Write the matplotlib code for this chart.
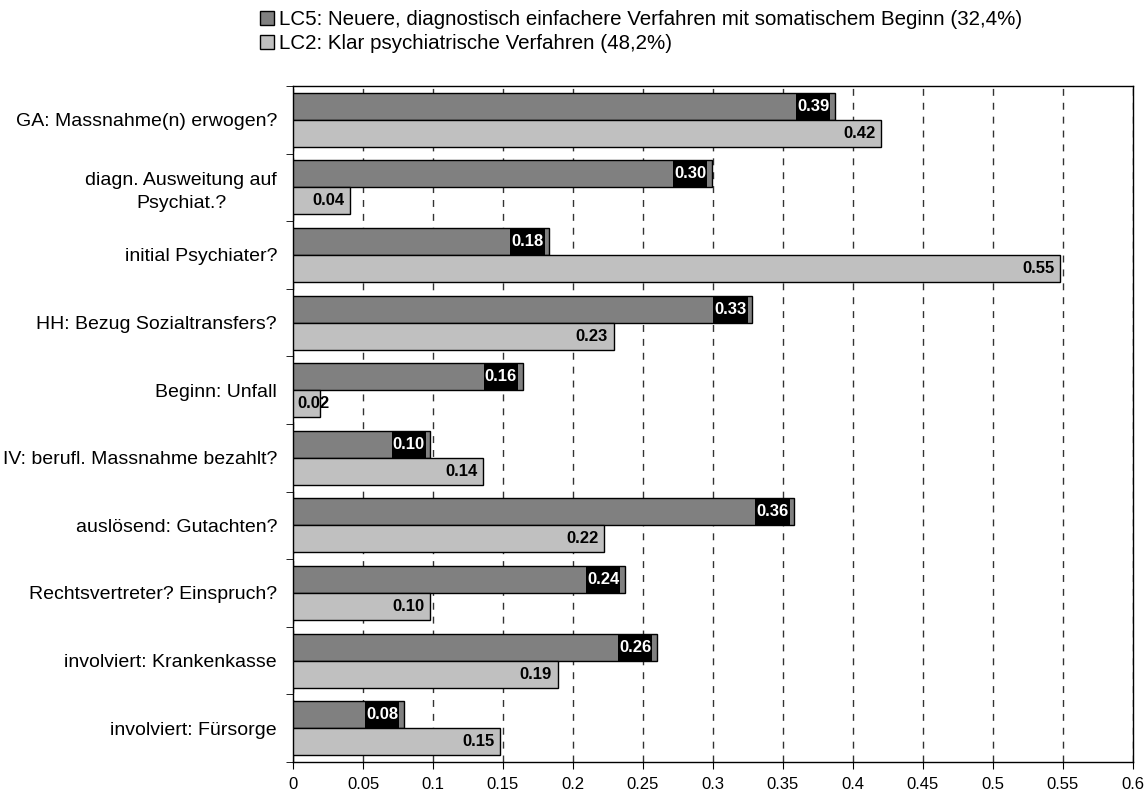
import numpy as np
import matplotlib.pyplot as plt
from matplotlib.patches import Patch
from matplotlib.ticker import FuncFormatter, MultipleLocator

# =============================================================================
#                           data
# =============================================================================

categories = ['GA: Massnahme(n) erwogen?',
              'diagn. Ausweitung auf\nPsychiat.?',
              'initial Psychiater?',
              'HH: Bezug Sozialtransfers?',
              'Beginn: Unfall',
              'IV: berufl. Massnahme bezahlt?',
              'auslösend: Gutachten?',
              'Rechtsvertreter? Einspruch?',
              'involviert: Krankenkasse',
              'involviert: Fürsorge']

lc5 = [0.387, 0.299, 0.183, 0.328, 0.164, 0.098, 0.358, 0.237, 0.260, 0.079]
lc2 = [0.420, 0.041, 0.548, 0.229, 0.019, 0.136, 0.222, 0.098, 0.189, 0.148]

lab_lc5 = 'LC5: Neuere, diagnostisch einfachere Verfahren mit somatischem Beginn (32,4%)'
lab_lc2 = 'LC2: Klar psychiatrische Verfahren (48,2%)'

col_lc5 = '#808080'
col_lc2 = '#c0c0c0'

# =============================================================================
#                               Plotting
# =============================================================================

plt.rcParams['font.family'] = ['Liberation Sans', 'DejaVu Sans']

fig = plt.figure(figsize=(11.45, 7.91), dpi=100)
ax = fig.add_axes([0.2559, 0.0367, 0.9895 - 0.2559, 0.8913 - 0.0367])

aY = np.arange(len(categories))
h = 0.4

ax.barh(aY - h/2, lc5, height=h, color=col_lc5, edgecolor='black', lw=1, zorder=3)
ax.barh(aY + h/2, lc2, height=h, color=col_lc2, edgecolor='black', lw=1, zorder=3)

ax.set_xlim(0, 0.6)
ax.set_ylim(len(categories) - 0.5, -0.5)

# value labels
lTxt5 = []
for y, v in zip(aY, lc5):
    t = ax.annotate('%.2f' % v, (v, y - h/2), xytext=(-4, 0), textcoords='offset points',
                    ha='right', va='center', fontsize=12, fontweight='bold', color='white',
                    zorder=5)
    lTxt5.append(t)
for y, v in zip(aY, lc2):
    if v < 0.03:
        ax.annotate('%.2f' % v, (0, y + h/2), xytext=(3.5, 0), textcoords='offset points',
                    ha='left', va='center', fontsize=12, fontweight='bold', color='black', zorder=5)
    else:
        ax.annotate('%.2f' % v, (v, y + h/2), xytext=(-4, 0), textcoords='offset points',
                    ha='right', va='center', fontsize=12, fontweight='bold', color='black', zorder=5)

# black boxes behind the LC5 labels, full bar height
fig.canvas.draw()
inv = ax.transData.inverted()
for t, y in zip(lTxt5, aY):
    bb = t.get_window_extent()
    x0 = inv.transform((bb.x0 - 1, 0))[0]
    x1 = inv.transform((bb.x1 + 1, 0))[0]
    ax.barh(y - h/2, x1 - x0, left=x0, height=h, color='black', lw=0, zorder=4)

ax.xaxis.set_major_locator(MultipleLocator(0.05))
ax.xaxis.set_major_formatter(FuncFormatter(lambda x, p: '%g' % round(x, 2)))
ax.grid(axis='x', color='#333333', lw=1, dashes=(5, 5), zorder=0)
ax.set_axisbelow(True)

ax.set_yticks(aY)
ax.set_yticklabels(categories, multialignment='center', linespacing=1.4)
ax.set_yticks(np.arange(len(categories) + 1) - 0.5, minor=True)
ax.tick_params(axis='y', which='major', length=0, pad=11.5, labelsize=14)
ax.tick_params(axis='y', which='minor', length=5, direction='out')
ax.tick_params(axis='x', length=5, direction='out', pad=6, labelsize=12)

for s in ax.spines.values():
    s.set_color('black')
    s.set_linewidth(1)

hnd = [Patch(fc=col_lc5, ec='black', lw=1), Patch(fc=col_lc2, ec='black', lw=1)]
fig.legend(hnd, [lab_lc5, lab_lc2], loc='upper left', bbox_to_anchor=(0.216, 1.003),
           frameon=False, fontsize=14.8, handlelength=0.7, handleheight=0.7,
           handletextpad=0.25, labelspacing=0.25, borderaxespad=0.2)

fig.savefig('out.png', dpi=100)
